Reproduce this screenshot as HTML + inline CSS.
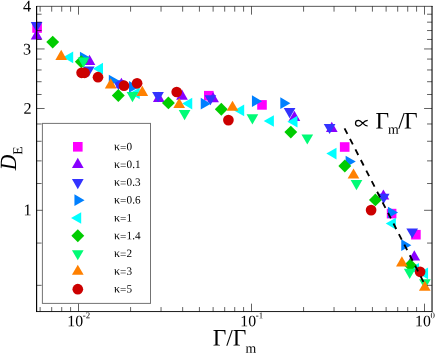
<!DOCTYPE html>
<html><head><meta charset="utf-8"><title>chart</title>
<style>html,body{margin:0;padding:0;background:#fff;}body{width:436px;height:354px;overflow:hidden;position:relative;}svg text{font-family:"Liberation Serif",serif;fill:#000;}svg{will-change:transform;}</style></head>
<body>
<svg width="436" height="354" viewBox="0 0 436 354" style="display:block;position:absolute;left:0;top:0">
<rect width="436" height="354" fill="#fff"/>
<g>
<rect x="32.30" y="23.20" width="9.60" height="9.60" fill="#ff00ff"/>
<rect x="204.00" y="90.90" width="9.60" height="9.60" fill="#ff00ff"/>
<rect x="257.20" y="100.10" width="9.60" height="9.60" fill="#ff00ff"/>
<rect x="339.90" y="142.20" width="9.60" height="9.60" fill="#ff00ff"/>
<rect x="386.80" y="208.80" width="9.60" height="9.60" fill="#ff00ff"/>
<rect x="411.10" y="229.90" width="9.60" height="9.60" fill="#ff00ff"/>
<polygon points="36.60,29.35 30.75,39.48 42.45,39.48" fill="#8800ff"/>
<polygon points="89.50,54.75 83.65,64.88 95.35,64.88" fill="#8800ff"/>
<polygon points="121.40,77.65 115.55,87.78 127.25,87.78" fill="#8800ff"/>
<polygon points="158.80,91.85 152.95,101.98 164.65,101.98" fill="#8800ff"/>
<polygon points="182.00,89.55 176.15,99.68 187.85,99.68" fill="#8800ff"/>
<polygon points="213.10,92.05 207.25,102.18 218.95,102.18" fill="#8800ff"/>
<polygon points="294.40,110.75 288.55,120.88 300.25,120.88" fill="#8800ff"/>
<polygon points="331.80,121.85 325.95,131.98 337.65,131.98" fill="#8800ff"/>
<polygon points="383.40,189.45 377.55,199.58 389.25,199.58" fill="#8800ff"/>
<polygon points="414.30,250.25 408.45,260.38 420.15,260.38" fill="#8800ff"/>
<polygon points="36.60,32.25 30.75,22.12 42.45,22.12" fill="#3333ff"/>
<polygon points="88.70,76.65 82.85,66.52 94.55,66.52" fill="#3333ff"/>
<polygon points="118.50,90.35 112.65,80.22 124.35,80.22" fill="#3333ff"/>
<polygon points="158.00,102.25 152.15,92.12 163.85,92.12" fill="#3333ff"/>
<polygon points="210.40,105.35 204.55,95.22 216.25,95.22" fill="#3333ff"/>
<polygon points="289.60,118.25 283.75,108.12 295.45,108.12" fill="#3333ff"/>
<polygon points="329.60,134.05 323.75,123.92 335.45,123.92" fill="#3333ff"/>
<polygon points="383.70,203.85 377.85,193.72 389.55,193.72" fill="#3333ff"/>
<polygon points="412.20,238.55 406.35,228.42 418.05,228.42" fill="#3333ff"/>
<polygon points="90.05,57.50 79.92,51.65 79.92,63.35" fill="#0080ff"/>
<polygon points="118.95,80.50 108.82,74.65 108.82,86.35" fill="#0080ff"/>
<polygon points="139.15,86.90 129.02,81.05 129.02,92.75" fill="#0080ff"/>
<polygon points="210.85,103.70 200.72,97.85 200.72,109.55" fill="#0080ff"/>
<polygon points="262.05,101.20 251.92,95.35 251.92,107.05" fill="#0080ff"/>
<polygon points="290.45,103.20 280.32,97.35 280.32,109.05" fill="#0080ff"/>
<polygon points="355.75,161.60 345.62,155.75 345.62,167.45" fill="#0080ff"/>
<polygon points="398.05,212.50 387.92,206.65 387.92,218.35" fill="#0080ff"/>
<polygon points="411.35,245.20 401.22,239.35 401.22,251.05" fill="#0080ff"/>
<polygon points="63.05,57.30 73.18,51.45 73.18,63.15" fill="#00ffff"/>
<polygon points="92.85,68.70 102.98,62.85 102.98,74.55" fill="#00ffff"/>
<polygon points="129.65,93.30 139.78,87.45 139.78,99.15" fill="#00ffff"/>
<polygon points="182.15,103.60 192.28,97.75 192.28,109.45" fill="#00ffff"/>
<polygon points="234.05,110.40 244.18,104.55 244.18,116.25" fill="#00ffff"/>
<polygon points="263.75,121.00 273.88,115.15 273.88,126.85" fill="#00ffff"/>
<polygon points="287.35,121.70 297.48,115.85 297.48,127.55" fill="#00ffff"/>
<polygon points="326.35,153.60 336.48,147.75 336.48,159.45" fill="#00ffff"/>
<polygon points="385.75,223.60 395.88,217.75 395.88,229.45" fill="#00ffff"/>
<polygon points="408.85,268.80 418.98,262.95 418.98,274.65" fill="#00ffff"/>
<polygon points="417.95,273.40 428.08,267.55 428.08,279.25" fill="#00ffff"/>
<polygon points="52.70,35.65 59.15,42.10 52.70,48.55 46.25,42.10" fill="#00cc00"/>
<polygon points="81.30,55.35 87.75,61.80 81.30,68.25 74.85,61.80" fill="#00cc00"/>
<polygon points="118.30,89.05 124.75,95.50 118.30,101.95 111.85,95.50" fill="#00cc00"/>
<polygon points="168.40,96.45 174.85,102.90 168.40,109.35 161.95,102.90" fill="#00cc00"/>
<polygon points="221.30,102.75 227.75,109.20 221.30,115.65 214.85,109.20" fill="#00cc00"/>
<polygon points="290.80,125.65 297.25,132.10 290.80,138.55 284.35,132.10" fill="#00cc00"/>
<polygon points="344.80,159.55 351.25,166.00 344.80,172.45 338.35,166.00" fill="#00cc00"/>
<polygon points="375.40,193.45 381.85,199.90 375.40,206.35 368.95,199.90" fill="#00cc00"/>
<polygon points="410.30,258.75 416.75,265.20 410.30,271.65 403.85,265.20" fill="#00cc00"/>
<polygon points="83.50,67.65 77.65,57.52 89.35,57.52" fill="#00fb76"/>
<polygon points="132.50,102.15 126.65,92.02 138.35,92.02" fill="#00fb76"/>
<polygon points="184.60,120.25 178.75,110.12 190.45,110.12" fill="#00fb76"/>
<polygon points="252.40,124.45 246.55,114.32 258.25,114.32" fill="#00fb76"/>
<polygon points="307.30,144.55 301.45,134.42 313.15,134.42" fill="#00fb76"/>
<polygon points="356.50,190.15 350.65,180.02 362.35,180.02" fill="#00fb76"/>
<polygon points="409.70,278.95 403.85,268.82 415.55,268.82" fill="#00fb76"/>
<polygon points="424.90,289.45 419.05,279.32 430.75,279.32" fill="#00fb76"/>
<polygon points="61.20,49.75 55.35,59.88 67.05,59.88" fill="#ff8000"/>
<polygon points="110.70,78.35 104.85,88.48 116.55,88.48" fill="#ff8000"/>
<polygon points="142.30,85.75 136.45,95.88 148.15,95.88" fill="#ff8000"/>
<polygon points="179.20,97.95 173.35,108.08 185.05,108.08" fill="#ff8000"/>
<polygon points="232.50,100.65 226.65,110.78 238.35,110.78" fill="#ff8000"/>
<polygon points="353.50,168.45 347.65,178.58 359.35,178.58" fill="#ff8000"/>
<polygon points="401.90,256.35 396.05,266.48 407.75,266.48" fill="#ff8000"/>
<polygon points="424.80,280.65 418.95,290.78 430.65,290.78" fill="#ff8000"/>
<circle cx="81.60" cy="72.80" r="5.35" fill="#cc0000"/>
<circle cx="84.60" cy="72.80" r="5.35" fill="#cc0000"/>
<circle cx="98.00" cy="77.20" r="5.35" fill="#cc0000"/>
<circle cx="124.00" cy="85.70" r="5.35" fill="#cc0000"/>
<circle cx="137.10" cy="83.30" r="5.35" fill="#cc0000"/>
<circle cx="176.70" cy="92.00" r="5.35" fill="#cc0000"/>
<circle cx="228.40" cy="120.10" r="5.35" fill="#cc0000"/>
<circle cx="371.10" cy="210.10" r="5.35" fill="#cc0000"/>
<circle cx="420.10" cy="271.80" r="5.35" fill="#cc0000"/>
</g>
<line x1="344.55" y1="128.3" x2="424.7" y2="284.3" stroke="#000" stroke-width="1.85" stroke-dasharray="6.2 5.69"/>
<path d="M40.12 6.35v5.3M40.12 311.55v-4.5M51.70 6.35v5.3M51.70 311.55v-4.5M61.73 6.35v5.3M61.73 311.55v-4.5M70.58 6.35v5.3M70.58 311.55v-4.5M78.50 6.35v8.3M78.50 311.55v-7.9M130.58 6.35v5.3M130.58 311.55v-4.5M161.04 6.35v5.3M161.04 311.55v-4.5M182.66 6.35v5.3M182.66 311.55v-4.5M199.42 6.35v5.3M199.42 311.55v-4.5M213.12 6.35v5.3M213.12 311.55v-4.5M224.70 6.35v5.3M224.70 311.55v-4.5M234.73 6.35v5.3M234.73 311.55v-4.5M243.58 6.35v5.3M243.58 311.55v-4.5M251.50 6.35v8.3M251.50 311.55v-7.9M303.58 6.35v5.3M303.58 311.55v-4.5M334.04 6.35v5.3M334.04 311.55v-4.5M355.66 6.35v5.3M355.66 311.55v-4.5M372.42 6.35v5.3M372.42 311.55v-4.5M386.12 6.35v5.3M386.12 311.55v-4.5M397.70 6.35v5.3M397.70 311.55v-4.5M407.73 6.35v5.3M407.73 311.55v-4.5M416.58 6.35v5.3M416.58 311.55v-4.5M424.50 6.35v8.3M424.50 311.55v-7.9M36.6 285.33h5.0M432.05 285.33h-5.0M36.6 243.07h5.0M432.05 243.07h-5.0M36.6 210.30h8.0M432.05 210.30h-8.0M36.6 183.52h5.0M432.05 183.52h-5.0M36.6 160.88h5.0M432.05 160.88h-5.0M36.6 141.27h5.0M432.05 141.27h-5.0M36.6 123.97h5.0M432.05 123.97h-5.0M36.6 108.49h8.0M432.05 108.49h-8.0M36.6 94.49h5.0M432.05 94.49h-5.0M36.6 81.71h5.0M432.05 81.71h-5.0M36.6 69.96h5.0M432.05 69.96h-5.0M36.6 59.07h5.0M432.05 59.07h-5.0M36.6 48.94h8.0M432.05 48.94h-8.0M36.6 39.46h5.0M432.05 39.46h-5.0M36.6 30.55h5.0M432.05 30.55h-5.0M36.6 22.16h5.0M432.05 22.16h-5.0M36.6 14.22h5.0M432.05 14.22h-5.0" stroke="#000" stroke-width="0.62" fill="none"/>
<path d="M36.6 6.35H432.55" stroke="#000" stroke-width="0.66" fill="none"/>
<path d="M432.05 6.05V311.55" stroke="#000" stroke-opacity="0.56" stroke-width="1.9" fill="none"/>
<path d="M36.6 5.949999999999999V312.05" stroke="#000" stroke-width="1.15" fill="none"/>
<path d="M36.0 311.55H432.55" stroke="#000" stroke-width="0.9" fill="none"/>
<rect x="42.4" y="123.4" width="108.1" height="180.0" fill="#fff" stroke="#000" stroke-opacity="0.55" stroke-width="1"/>
<rect x="73.00" y="142.00" width="9.60" height="9.60" fill="#ff00ff"/>
<text transform="rotate(0.03 114 150.2)" y="150.20" font-size="11.2"><tspan x="114.0" font-size="11.9">κ</tspan><tspan x="119.9" dy="0.7">=</tspan><tspan x="126.4" dy="-0.7" letter-spacing="0.15">0</tspan></text>
<polygon points="77.80,157.85 71.95,167.98 83.65,167.98" fill="#8800ff"/>
<text transform="rotate(0.03 114 168.0)" y="168.00" font-size="11.2"><tspan x="114.0" font-size="11.9">κ</tspan><tspan x="119.9" dy="0.7">=</tspan><tspan x="126.4" dy="-0.7" letter-spacing="0.15">0.1</tspan></text>
<polygon points="77.80,189.15 71.95,179.02 83.65,179.02" fill="#3333ff"/>
<text transform="rotate(0.03 114 185.8)" y="185.80" font-size="11.2"><tspan x="114.0" font-size="11.9">κ</tspan><tspan x="119.9" dy="0.7">=</tspan><tspan x="126.4" dy="-0.7" letter-spacing="0.15">0.3</tspan></text>
<polygon points="84.55,200.20 74.42,194.35 74.42,206.05" fill="#0080ff"/>
<text transform="rotate(0.03 114 203.6)" y="203.60" font-size="11.2"><tspan x="114.0" font-size="11.9">κ</tspan><tspan x="119.9" dy="0.7">=</tspan><tspan x="126.4" dy="-0.7" letter-spacing="0.15">0.6</tspan></text>
<polygon points="71.05,218.00 81.18,212.15 81.18,223.85" fill="#00ffff"/>
<text transform="rotate(0.03 114 221.4)" y="221.40" font-size="11.2"><tspan x="114.0" font-size="11.9">κ</tspan><tspan x="119.9" dy="0.7">=</tspan><tspan x="126.4" dy="-0.7" letter-spacing="0.15">1</tspan></text>
<polygon points="77.80,229.35 84.25,235.80 77.80,242.25 71.35,235.80" fill="#00cc00"/>
<text transform="rotate(0.03 114 239.2)" y="239.20" font-size="11.2"><tspan x="114.0" font-size="11.9">κ</tspan><tspan x="119.9" dy="0.7">=</tspan><tspan x="126.4" dy="-0.7" letter-spacing="0.15">1.4</tspan></text>
<polygon points="77.80,260.35 71.95,250.22 83.65,250.22" fill="#00fb76"/>
<text transform="rotate(0.03 114 257.0)" y="257.00" font-size="11.2"><tspan x="114.0" font-size="11.9">κ</tspan><tspan x="119.9" dy="0.7">=</tspan><tspan x="126.4" dy="-0.7" letter-spacing="0.15">2</tspan></text>
<polygon points="77.80,264.65 71.95,274.78 83.65,274.78" fill="#ff8000"/>
<text transform="rotate(0.03 114 274.8)" y="274.80" font-size="11.2"><tspan x="114.0" font-size="11.9">κ</tspan><tspan x="119.9" dy="0.7">=</tspan><tspan x="126.4" dy="-0.7" letter-spacing="0.15">3</tspan></text>
<circle cx="77.80" cy="289.20" r="5.35" fill="#cc0000"/>
<text transform="rotate(0.03 114 292.6)" y="292.60" font-size="11.2"><tspan x="114.0" font-size="11.9">κ</tspan><tspan x="119.9" dy="0.7">=</tspan><tspan x="126.4" dy="-0.7" letter-spacing="0.15">5</tspan></text>
<text transform="rotate(0.03 31 215.2)" x="31.5" y="215.20" font-size="16.2" text-anchor="end">1</text>
<text transform="rotate(0.03 31 113.7)" x="31.7" y="113.69" font-size="16.2" text-anchor="end">2</text>
<text transform="rotate(0.03 31 54.6)" x="31.2" y="54.64" font-size="16.2" text-anchor="end">3</text>
<text transform="rotate(0.03 31 11.5)" x="31.2" y="11.48" font-size="16.2" text-anchor="end">4</text>
<text transform="rotate(0.03 78.5 326)" x="67.20" y="326.3" font-size="15.8" letter-spacing="0.1">10<tspan font-size="8.8" dy="-8.0" dx="-0.4" letter-spacing="0">-2</tspan></text>
<text transform="rotate(0.03 251.5 326)" x="240.20" y="326.3" font-size="15.8" letter-spacing="0.1">10<tspan font-size="8.8" dy="-8.0" dx="-0.4" letter-spacing="0">-1</tspan></text>
<text transform="rotate(0.03 424.5 326)" x="415.00" y="326.3" font-size="15.8" letter-spacing="0.1">10<tspan font-size="8.8" dy="-8.0" dx="-0.4" letter-spacing="0">0</tspan></text>
<text transform="rotate(0.03 213 345)" x="212.7" y="345.4" font-size="23.5">Γ/Γ<tspan font-size="13.8" dy="7.3" dx="-1">m</tspan></text>
<text transform="translate(15.9,170.3) rotate(-90.03) scale(0.92,0.99)" font-size="23.5" font-style="italic">D</text>
<text transform="translate(22.2,154.7) rotate(-90.03)" font-size="13.7">E</text>
<text transform="rotate(0.03 376 128)" y="128.5" font-size="23.5"><tspan x="375.5">Γ</tspan><tspan x="387.9" font-size="13.8" dy="5.3">m</tspan><tspan x="398.2" dy="-5.3">/</tspan><tspan x="404.1">Γ</tspan></text>
<path d="M367.7 120.4C365.5 120.5 364.2 121.5 362.7 123.15C361.2 124.9 360.2 126.0 358.6 126.0C356.8 126.0 355.5 124.8 355.5 123.15C355.5 121.5 356.8 120.3 358.6 120.3C360.2 120.3 361.2 121.4 362.7 123.15C364.2 124.8 365.5 125.9 367.7 126.0" fill="none" stroke="#000" stroke-width="1.25"/>
</svg>
</body></html>
